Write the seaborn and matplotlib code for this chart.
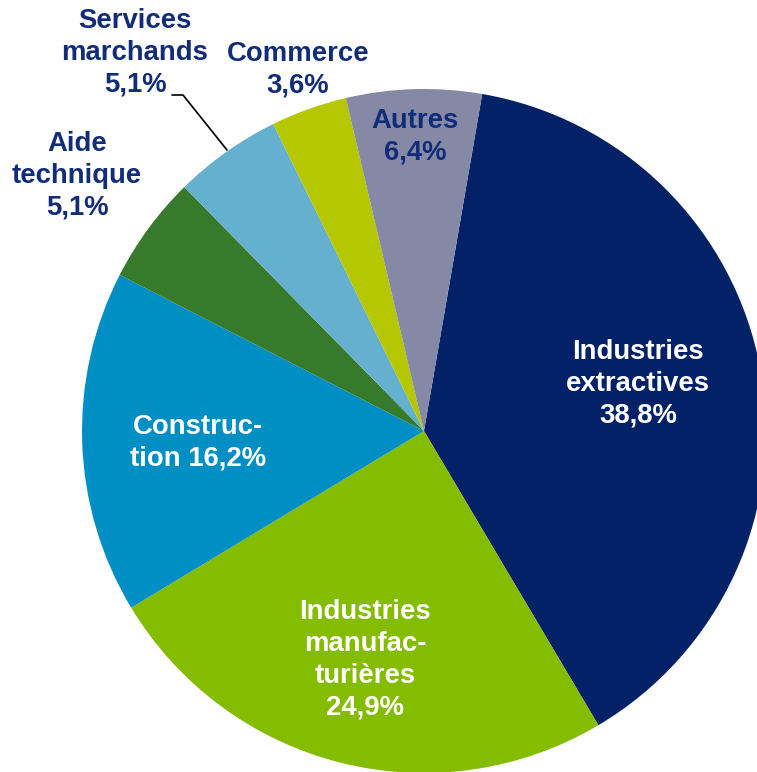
import matplotlib.pyplot as plt
import seaborn as sns

# Data
sectors = ["Industries extractives", "Industries manufacturières", "Construction",
           "Aide technique", "Services marchands", "Commerce", "Autres"]
shares = [38.8, 24.9, 16.2, 5.1, 5.1, 3.6, 6.4]
label_texts = ["Industries\nextractives\n38,8%",
               "Industries\nmanufac-\nturières\n24,9%",
               "Construc-\ntion 16,2%",
               "Aide\ntechnique\n5,1%",
               "Services\nmarchands\n5,1%",
               "Commerce\n3,6%",
               "Autres\n6,4%"]

colors = ["#022166", "#84BC00", "#008FC5", "#387A2C", "#65B0CE", "#B5C700", "#8589A6"]
navy = "#112C78"
label_colors = ["white", "white", "white", navy, navy, navy, navy]

# layout: pie centre / radius in pixels, label centres in pixels
W, H = 757, 772
CX, CY, R = 424, 431, 342
label_px = [(638, 384), (365, 660), (198, 443), (77, 176), (135, 53), (298, 70), (415, 137)]


def px(x, y):
    return (x - CX) / R, (CY - y) / R


sns.set_theme(style="white")
plt.rcParams['font.family'] = ['Liberation Sans', 'DejaVu Sans']

fig = plt.figure(figsize=(W / 100, H / 100), dpi=100)
ax = fig.add_axes([(CX - R) / W, (H - CY - R) / H, 2 * R / W, 2 * R / H])

ax.pie(shares, colors=colors, startangle=80.2, counterclock=False,
       wedgeprops=dict(linewidth=0))
ax.set_xlim(-1, 1)
ax.set_ylim(-1, 1)
ax.set_aspect('auto')
ax.axis('off')

for txt, pos, col in zip(label_texts, label_px, label_colors):
    x, y = px(*pos)
    ax.text(x, y, txt, ha='center', va='center', color=col, fontsize=19.8,
            fontweight='bold', linespacing=1.29, clip_on=False)

# leader line for Services marchands
pts = [px(172, 95), px(183, 95), px(227, 150)]
ax.plot([p[0] for p in pts], [p[1] for p in pts], color='black', lw=1.2, clip_on=False)

fig.savefig('out.png', dpi=100)
